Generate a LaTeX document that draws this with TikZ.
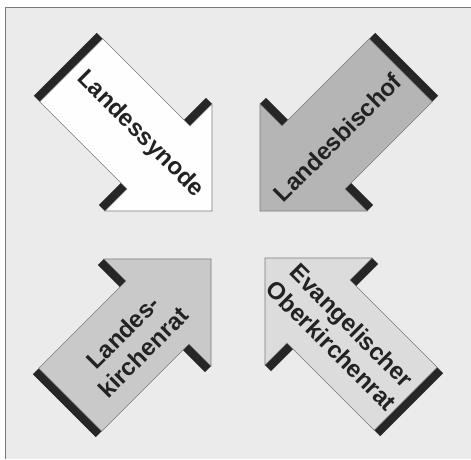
\documentclass[tikz,border=0pt]{standalone}
\usepackage{fontspec}
\setmainfont{Liberation Sans}
\definecolor{bgray}{HTML}{EAEBEA}
\definecolor{framegray}{HTML}{7A7A7A}
\definecolor{barblack}{HTML}{262626}
\definecolor{fillTL}{HTML}{FEFEFE}
\definecolor{fillTR}{HTML}{B4B5B4}
\definecolor{fillBL}{HTML}{C8C9C8}
\definecolor{fillBR}{HTML}{DBDCDB}
\definecolor{textdark}{HTML}{222222}
\newcommand\kirchenpfeil[3]{%
  \begin{scope}[shift={#1}, rotate=#2]
    \fill[barblack] (-207.5,-44.5) rectangle (-199,44.5);
    \fill[barblack] (-84.2,44.5) rectangle (-75.7,75.7);
    \fill[barblack] (-84.2,-44.5) rectangle (-75.7,-75.7);
    \filldraw[fill=#3, arrowedge] (0,0) -- (-75.7,75.7) -- (-75.7,44.5) -- (-199,44.5)
      -- (-199,-44.5) -- (-75.7,-44.5) -- (-75.7,-75.7) -- cycle;
  \end{scope}}
\begin{document}
\begin{tikzpicture}[x=1pt,y=1pt,
  arrowedge/.style={draw=framegray, line width=0.6pt, line join=miter},
  lbl/.style={font=\fontsize{24}{28.5}\selectfont\bfseries, text=textdark,
    align=center, inner sep=0pt, transform shape}]
\useasboundingbox (0,0) rectangle (471,459);
\fill[white] (0,0) rectangle (471,459);
\fill[bgray] (5,0) rectangle (471,451);
\draw[framegray, line width=1pt] (5,0) -- (5,451) -- (471,451);

\kirchenpfeil{(212,248)}{-45}{fillTL}
\kirchenpfeil{(260,248)}{-135}{fillTR}
\kirchenpfeil{(211,200)}{45}{fillBL}
\kirchenpfeil{(265,201)}{135}{fillBR}

\begin{scope}[shift={(212,248)}, rotate=-45]
  \node[lbl] (synode) at (-105,3.5) {Landessynode};
\end{scope}
\begin{scope}[shift={(260,248)}, rotate=-135]
  \node[lbl, rotate=180] (bischof) at (-107,2.8) {Landesbischof};
\end{scope}
\begin{scope}[shift={(211,200)}, rotate=45]
  \node[lbl] (lkr) at (-114,-3.6) {Landes-\\kirchenrat};
\end{scope}
\begin{scope}[shift={(265,201)}, rotate=135]
  \node[lbl, rotate=180] (okr) at (-109,0.6) {Evangelischer\\Oberkirchenrat};
\end{scope}
\end{tikzpicture}
\end{document}
